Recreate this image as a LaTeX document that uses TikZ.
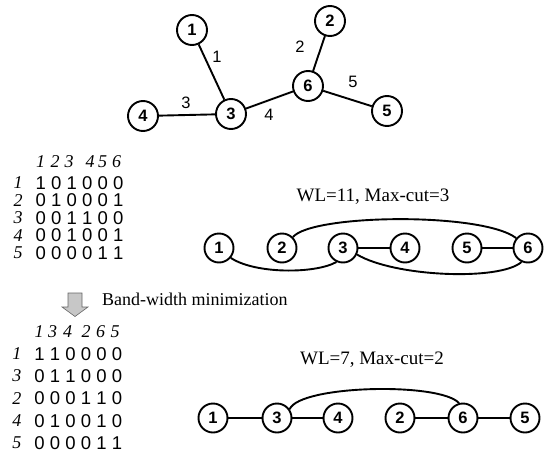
\documentclass[tikz,border=0pt]{standalone}
\usepackage{fontspec}
\setmainfont{Liberation Serif}
\setsansfont{Liberation Sans}
\begin{document}
\begin{tikzpicture}[x=1pt,y=-1pt,
  gnode/.style={circle,draw,line width=1.9pt,minimum size=30pt,inner sep=0pt,font=\sffamily\bfseries\fontsize{16.5}{18}\selectfont},
  lnode/.style={gnode,minimum size=29pt},
  edge/.style={line width=1.9pt},
  elabel/.style={font=\sffamily\fontsize{16.5}{18}\selectfont,inner sep=0pt},
  mdig/.style={font=\sffamily\fontsize{18.5}{20}\selectfont,inner sep=0pt},
  midx/.style={font=\itshape\fontsize{18}{20}\selectfont,inner sep=0pt},
  caption/.style={font=\fontsize{19}{21}\selectfont,inner sep=0pt},
  bandarrow/.style={fill=black!22,draw=black!60,line width=0.6pt}]
\useasboundingbox (0,0) rectangle (552,453);

% ---- top graph ----
\node[gnode] (t1) at (192,30) {1};
\node[gnode] (t2) at (330,21) {2};
\node[gnode] (t6) at (308,86) {6};
\node[gnode] (t5) at (387,111) {5};
\node[gnode] (t3) at (231,114) {3};
\node[gnode] (t4) at (143,116) {4};
\draw[edge] (t1) -- (t3);
\draw[edge] (t4) -- (t3);
\draw[edge] (t3) -- (t6);
\draw[edge] (t6) -- (t2);
\draw[edge] (t6) -- (t5);
\node[elabel] (l1) at (217,57) {1};
\node[elabel] (l2) at (300,47) {2};
\node[elabel] (l3) at (186,103) {3};
\node[elabel] (l4) at (269,115) {4};
\node[elabel] (l5) at (353,82) {5};

% ---- matrix 1 ----
\foreach \h/\x in {1/40.7,2/55,3/69,4/90,5/102.5,6/116.7}
  \node[midx] (ha\h) at (\x,162) {\h};
\foreach \r/\y/\bits in {1/183/{1,0,1,0,0,0},2/200.5/{0,1,0,0,0,1},3/218/{0,0,1,1,0,0},4/235.5/{0,0,1,0,0,1},5/253/{0,0,0,0,1,1}}{
  \node[midx] (ra\r) at (18,\y) {\r};
  \foreach \b [count=\c] in \bits
    \node[mdig] (ma\r-\c) at (40.7+15.5*\c-15.5,\y) {\b};
}

% ---- arrow and text ----
\draw[bandarrow] (68,293) -- (82,293) -- (82,307) -- (88,307) -- (75,316.5) -- (62,307) -- (68,307) -- cycle;
\node[caption,anchor=west,font=\fontsize{18}{20}\selectfont] (bw) at (102,299.5) {Band-width minimization};

% ---- matrix 2 ----
\foreach \h/\x in {1/39,3/52.5,4/67.5,2/86,6/100.5,5/115}
  \node[midx] (hb\h) at (\x,332) {\h};
\foreach \r/\y/\bits in {1/354/{1,1,0,0,0,0},3/376/{0,1,1,0,0,0},2/398.5/{0,0,0,1,1,0},4/421/{0,1,0,0,1,0},5/443/{0,0,0,0,1,1}}{
  \node[midx] (rb\r) at (17,\y) {\r};
  \foreach \b [count=\c] in \bits
    \node[mdig] (mb\r-\c) at (39.5+15.5*\c-15.5,\y) {\b};
}

% ---- right graph A ----
\node[caption] (capA) at (373,197) {WL=11, Max-cut=3};
\node[lnode] (a1) at (219,248) {1};
\node[lnode] (a2) at (282,248) {2};
\node[lnode] (a3) at (343,248) {3};
\node[lnode] (a4) at (405,248) {4};
\node[lnode] (a5) at (467,248) {5};
\node[lnode] (a6) at (528,248) {6};
\draw[edge] (a3) -- (a4);
\draw[edge] (a5) -- (a6);
\draw[edge] (a2.45) .. controls (312,214) and (482,212) .. (a6.140);
\draw[edge] (a1.-40) .. controls (255,274) and (315,274) .. (a3.-115);
\draw[edge] (a3.-25) .. controls (395,277) and (500,281) .. (a6.-115);

% ---- right graph B ----
\node[caption] (capB) at (372,360) {WL=7, Max-cut=2};
\node[lnode] (b1) at (213,418) {1};
\node[lnode] (b3) at (277,418) {3};
\node[lnode] (b4) at (338,418) {4};
\node[lnode] (b2) at (400,418) {2};
\node[lnode] (b6) at (463,418) {6};
\node[lnode] (b5) at (525,418) {5};
\draw[edge] (b1) -- (b3);
\draw[edge] (b3) -- (b4);
\draw[edge] (b2) -- (b6);
\draw[edge] (b6) -- (b5);
\draw[edge] (b3.35) .. controls (300,385) and (440,382) .. (b6.105);
\end{tikzpicture}
\end{document}
